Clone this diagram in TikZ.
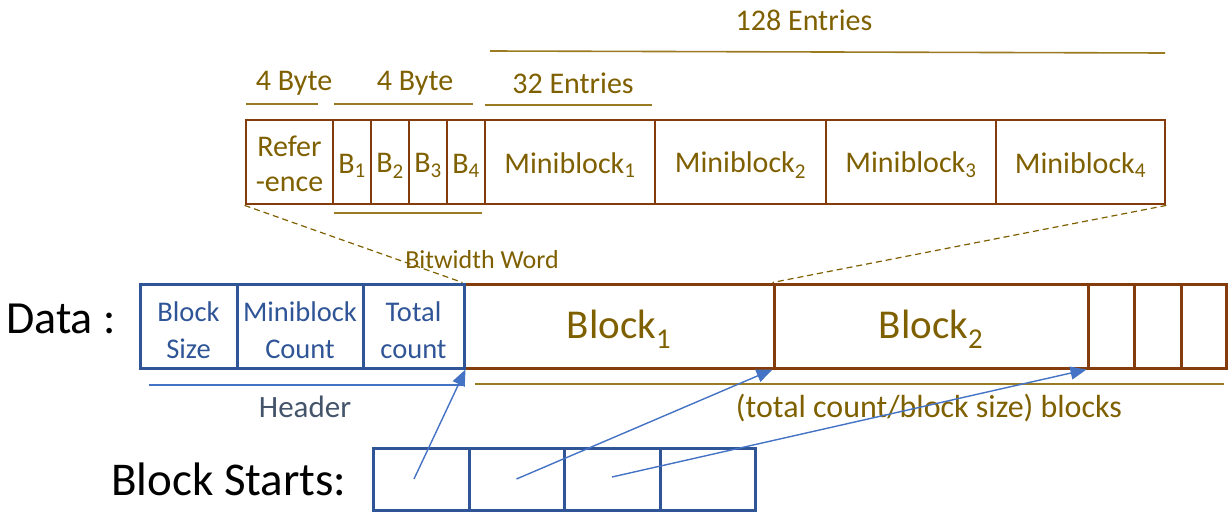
\documentclass[tikz,border=0pt]{standalone}
\usepackage{fontspec}
\setmainfont{Carlito}
\usetikzlibrary{arrows.meta}

\definecolor{boxbrown}{HTML}{843C0C}
\definecolor{txtgold}{HTML}{7F6000}
\definecolor{rulegold}{HTML}{9A7B22}
\definecolor{hdrblue}{HTML}{2F5597}
\definecolor{ptrblue}{HTML}{4472C4}
\definecolor{hdrgray}{HTML}{44546A}

\newcommand\setfs[2]{\fontsize{#1}{#2}\selectfont}

\tikzset{
  topcell/.style={draw=boxbrown, line width=2.8pt, minimum height=84pt,
    inner sep=0pt, text=txtgold, font=\setfs{30}{35}, align=center,
    execute at begin node={\rule{0pt}{27pt}}},
  toptext/.style={inner sep=0pt, text=txtgold, font=\setfs{30}{35},
    align=center, yshift=-2pt},
  hdrcell/.style={draw=hdrblue, line width=3pt, minimum height=84pt,
    inner sep=0pt},
  hdrtext/.style={inner sep=0pt, text=hdrblue, font=\setfs{28.5}{37},
    align=center, yshift=-4pt},
  datacell/.style={draw=boxbrown, line width=3pt, minimum height=84pt,
    inner sep=0pt, text=txtgold, font=\setfs{41}{48},
    execute at begin node={\rule{0pt}{35pt}}},
  startcell/.style={draw=hdrblue, line width=3pt, minimum height=62pt,
    inner sep=0pt},
  lbl/.style={inner sep=0pt, text=txtgold, font=\setfs{30}{35}},
  rule/.style={draw=rulegold, line width=1.6pt},
  hdrrule/.style={draw=ptrblue, line width=1.6pt},
  dashlink/.style={draw=txtgold, line width=1.2pt, dash pattern=on 6pt off 4pt},
  ptr/.style={draw=ptrblue, line width=1.4pt,
    -{Triangle[length=16pt, width=13pt]}},
}

\begin{document}
\begin{tikzpicture}[x=1pt, y=-1pt]
\useasboundingbox (0,0) rectangle (1229,519);

% bitwidth word and miniblocks
\node[topcell, minimum width=87pt,
      label={[toptext]center:Refer\\-ence}] (ref) at (289.5,162) {};
\node[topcell, minimum width=38pt]  (b1)  at (352,162) {B\textsubscript{1}};
\node[topcell, minimum width=38pt]  (b2)  at (390,162) {B\textsubscript{2}};
\node[topcell, minimum width=38pt]  (b3)  at (428,162) {B\textsubscript{3}};
\node[topcell, minimum width=38pt]  (b4)  at (466,162) {B\textsubscript{4}};
\node[topcell, minimum width=170pt] (m1)  at (570,162) {Miniblock\textsubscript{1}};
\node[topcell, minimum width=171pt] (m2)  at (740.5,162) {Miniblock\textsubscript{2}};
\node[topcell, minimum width=170pt] (m3)  at (911,162) {Miniblock\textsubscript{3}};
\node[topcell, minimum width=169pt] (m4)  at (1080.5,162) {Miniblock\textsubscript{4}};

% size annotations above the miniblock row
\node[lbl, anchor=base] (lb128) at (804,31) {128 Entries};
\node[lbl, anchor=base] (lb32)  at (573,93) {32 Entries};
\node[lbl, anchor=base] (lb4a)  at (294,91) {4 Byte};
\node[lbl, anchor=base] (lb4b)  at (415,91) {4 Byte};
\draw[rule] (490,51) -- (1165,53);
\draw[rule] (485,105) -- (652,105);
\draw[rule] (246,104) -- (318,104);
\draw[rule] (334,104) -- (473,104);
\draw[rule] (334,213) -- (482,213);

% data blocks
\node[datacell, minimum width=310pt] (blk1) at (619,326) {Block\textsubscript{1}};
\node[datacell, minimum width=314pt] (blk2) at (931,326) {Block\textsubscript{2}};
\node[datacell, minimum width=46pt]  (e1)   at (1111,326) {};
\node[datacell, minimum width=47pt]  (e2)   at (1157.5,326) {};
\node[datacell, minimum width=45pt]  (e3)   at (1203.5,326) {};

% header fields
\node[hdrcell, minimum width=97pt,
      label={[hdrtext]center:Block\\Size}] (bs) at (188.5,326) {};
\node[hdrcell, minimum width=126pt,
      label={[hdrtext]center:Miniblock\\Count}] (mc) at (300,326) {};
\node[hdrcell, minimum width=101pt,
      label={[hdrtext]center:Total\\count}] (tc) at (413.5,326) {};

% zoom-in guides from a block to its layout
\draw[dashlink] (ref.south west) -- (blk1.north west);
\draw[dashlink] (m4.south east) -- (blk2.north west);
\node[lbl, font=\setfs{26}{30}, anchor=base] (bww) at (482,268) {Bitwidth Word};

% row captions
\node[inner sep=0pt, anchor=base west, font=\setfs{46}{52}] (data) at (6,333) {Data :};
\node[inner sep=0pt, anchor=base west, font=\setfs{47}{52}] (bst) at (111,495) {Block Starts:};

% header / blocks annotations
\draw[hdrrule] (149,385) -- (463,385);
\node[inner sep=0pt, anchor=base, text=hdrgray, font=\setfs{31}{36}] (hdr) at (305,417) {Header};
\draw[rule] (475,384) -- (1224,384);
\node[lbl, font=\setfs{32}{36}, anchor=base] (cnt) at (929,417) {(total count/block size) blocks};

% block start offsets
\node[startcell, minimum width=96pt] (s1) at (421,479) {};
\node[startcell, minimum width=95pt] (s2) at (516.5,479) {};
\node[startcell, minimum width=96pt] (s3) at (612,479) {};
\node[startcell, minimum width=95pt] (s4) at (707.5,479) {};

\draw[ptr] ([xshift=-7pt]s1.center) -- (tc.south east);
\draw[ptr] (s2.center) -- (blk2.south west);
\draw[ptr] ([yshift=2pt]s3.center) -- (e1.south west);
\end{tikzpicture}
\end{document}
